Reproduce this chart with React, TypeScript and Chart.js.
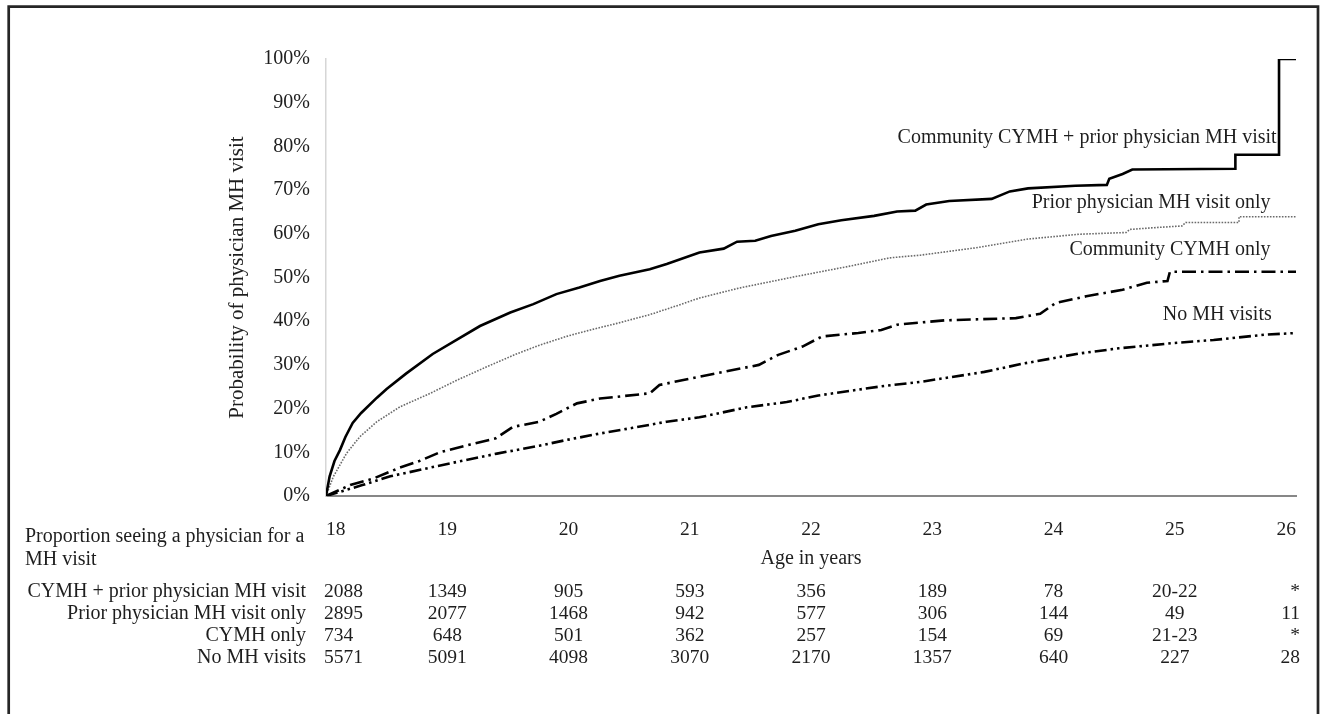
import React, { useEffect, useRef } from "react";
import { Chart, registerables } from "chart.js";

Chart.register(...registerables);

const SERIF = '"Liberation Serif", "Times New Roman", serif';

// x-axis ages (years) and y ticks (%)
const AGE_TICKS = [18, 19, 20, 21, 22, 23, 24, 25, 26];
const PCT_TICKS = [0, 10, 20, 30, 40, 50, 60, 70, 80, 90, 100];

// Community CYMH + prior physician MH visit
const BOTH_AGE = [18, 18.03, 18.07, 18.115, 18.16, 18.22, 18.29, 18.42, 18.5, 18.66, 18.88, 19.08, 19.27, 19.52, 19.71, 19.9, 20.09, 20.26, 20.42, 20.67, 20.81, 21.08, 21.28, 21.39, 21.54, 21.67, 21.87, 22.06, 22.25, 22.52, 22.71, 22.86, 22.95, 23.14, 23.49, 23.64, 23.79, 24.18, 24.44, 24.46, 24.57, 24.65, 25.5, 25.5, 25.86, 25.86, 26];
const BOTH_PCT = [0, 4.5, 8, 10.5, 13.5, 16.7, 19, 22.5, 24.5, 28, 32.5, 35.8, 38.9, 42, 43.9, 46.2, 47.7, 49.2, 50.4, 51.9, 53.1, 55.7, 56.6, 58.2, 58.4, 59.5, 60.7, 62.2, 63.1, 64.1, 65.1, 65.3, 66.7, 67.5, 68, 69.7, 70.4, 71, 71.2, 72.6, 73.7, 74.7, 74.9, 78.1, 78.1, 100, 100];

// Prior physician MH visit only
const PRIOR_AGE = [18, 18.06, 18.17, 18.28, 18.42, 18.61, 18.86, 19.08, 19.32, 19.57, 19.76, 19.98, 20.18, 20.4, 20.67, 20.89, 21.08, 21.41, 21.87, 22.32, 22.65, 22.9, 23.36, 23.79, 24.21, 24.6, 24.63, 24.83, 25.06, 25.09, 25.53, 25.53, 26];
const PRIOR_PCT = [0, 4.4, 9.8, 13.6, 17, 20.4, 23.5, 26.5, 29.5, 32.5, 34.5, 36.5, 38, 39.5, 41.5, 43.5, 45.3, 47.6, 50.2, 52.6, 54.5, 55.1, 56.8, 58.8, 59.9, 60.3, 61, 61.4, 61.8, 62.6, 62.6, 63.9, 63.9];

// Community CYMH only
const CYMH_AGE = [18, 18.2, 18.39, 18.61, 18.77, 18.94, 19.19, 19.4, 19.54, 19.76, 19.9, 20.07, 20.26, 20.67, 20.75, 21.08, 21.28, 21.57, 21.73, 21.93, 22.09, 22.39, 22.58, 22.71, 23.1, 23.69, 23.89, 24.02, 24.27, 24.57, 24.77, 24.94, 24.96, 26];
const CYMH_PCT = [0, 2.5, 4, 6.5, 8, 10, 11.8, 13.2, 15.8, 17, 18.8, 21.2, 22.3, 23.5, 25.4, 27.3, 28.4, 30, 32.3, 34.2, 36.5, 37.3, 38, 39.2, 40.2, 40.7, 41.7, 44.2, 45.7, 47.2, 48.8, 49.2, 51.3, 51.3];

// No MH visits
const NONE_AGE = [18, 18.3, 18.53, 18.86, 19.08, 19.41, 19.76, 19.98, 20.26, 20.53, 20.81, 21.08, 21.47, 21.8, 22.06, 22.58, 22.9, 23.43, 23.75, 24.21, 24.54, 24.99, 25.32, 25.74, 26];
const NONE_PCT = [0, 2.5, 4.5, 6.5, 7.8, 9.7, 11.5, 12.8, 14.3, 15.6, 17, 18, 20.3, 21.5, 23, 25.1, 26.1, 28.4, 30.3, 32.6, 33.8, 35, 35.7, 36.9, 37.3];

const SERIES_NAMES = [
  "Community CYMH + prior physician MH visit",
  "Prior physician MH visit only",
  "Community CYMH only",
  "No MH visits",
];

// Numbers at risk table
const TABLE_TITLE = ["Proportion seeing a physician for a", "MH visit"];
const ROW_LABELS = [
  "CYMH + prior physician MH visit",
  "Prior physician MH visit only",
  "CYMH only",
  "No MH visits",
];
const ROW_BOTH = ["2088", "1349", "905", "593", "356", "189", "78", "20-22", "*"];
const ROW_PRIOR = ["2895", "2077", "1468", "942", "577", "306", "144", "49", "11"];
const ROW_CYMH = ["734", "648", "501", "362", "257", "154", "69", "21-23", "*"];
const ROW_NONE = ["5571", "5091", "4098", "3070", "2170", "1357", "640", "227", "28"];

const toPoints = (xs: number[], ys: number[]) => xs.map((x, i) => ({ x, y: ys[i] }));

const overlayPlugin = {
  id: "overlay",
  afterDraw(chart: any) {
    const { ctx } = chart;
    const xs = chart.scales.x;
    const ys = chart.scales.y;
    ctx.save();
    // outer frame
    ctx.strokeStyle = "#262626";
    ctx.lineWidth = 2.7;
    ctx.beginPath();
    ctx.moveTo(8.7, 730);
    ctx.lineTo(8.7, 6.6);
    ctx.lineTo(1318, 6.6);
    ctx.lineTo(1318, 730);
    ctx.stroke();

    ctx.fillStyle = "#1e1e1e";
    ctx.textBaseline = "middle";

    // series labels
    ctx.font = `20px ${SERIF}`;
    ctx.textAlign = "right";
    const anchors = [
      [25.84, 81.9],
      [25.79, 67.0],
      [25.79, 56.3],
      [25.8, 41.4],
    ];
    SERIES_NAMES.forEach((name, i) => {
      ctx.fillText(name, xs.getPixelForValue(anchors[i][0]), ys.getPixelForValue(anchors[i][1]));
    });

    // table title
    ctx.textAlign = "left";
    ctx.fillText(TABLE_TITLE[0], 25, 537);
    ctx.fillText(TABLE_TITLE[1], 25, 560);

    // table rows
    const rows = [ROW_BOTH, ROW_PRIOR, ROW_CYMH, ROW_NONE];
    const rowY = [592, 614, 636, 658];
    rows.forEach((row, r) => {
      ctx.font = `20px ${SERIF}`;
      ctx.textAlign = "right";
      ctx.fillText(ROW_LABELS[r], 306, rowY[r]);
      ctx.font = `19.5px ${SERIF}`;
      row.forEach((val, c) => {
        const px = xs.getPixelForValue(AGE_TICKS[c]);
        if (c === 0) {
          ctx.textAlign = "left";
          ctx.fillText(val, px - 2, rowY[r]);
        } else if (c === row.length - 1) {
          ctx.textAlign = "right";
          ctx.fillText(val, px + 4, rowY[r]);
        } else {
          ctx.textAlign = "center";
          ctx.fillText(val, px, rowY[r]);
        }
      });
    });
    ctx.restore();
  },
};

export default function App() {
  const canvasRef = useRef<HTMLCanvasElement | null>(null);

  useEffect(() => {
    if (!canvasRef.current) return;
    const common = { pointRadius: 0, tension: 0, fill: false };
    const chart = new Chart(canvasRef.current, {
      type: "line",
      data: {
        datasets: [
          {
            ...common,
            label: SERIES_NAMES[0],
            data: toPoints(BOTH_AGE, BOTH_PCT),
            borderColor: "#000000",
            borderWidth: 2.6,
          },
          {
            ...common,
            label: SERIES_NAMES[1],
            data: toPoints(PRIOR_AGE, PRIOR_PCT),
            borderColor: "#6a6a6a",
            borderWidth: 1.6,
            borderDash: [1.6, 1.4],
          },
          {
            ...common,
            label: SERIES_NAMES[2],
            data: toPoints(CYMH_AGE, CYMH_PCT),
            borderColor: "#000000",
            borderWidth: 2.6,
            borderDash: [14, 5, 2.5, 5],
          },
          {
            ...common,
            label: SERIES_NAMES[3],
            data: toPoints(NONE_AGE, NONE_PCT),
            borderColor: "#000000",
            borderWidth: 2.6,
            borderDash: [12, 4, 2.5, 4, 2.5, 4],
          },
        ],
      },
      options: {
        responsive: false,
        animation: false,
        events: [],
        layout: { padding: { left: 225, right: 24, top: 59, bottom: 138 } },
        plugins: {
          legend: { display: false },
          tooltip: { enabled: false },
        },
        scales: {
          x: {
            type: "linear",
            min: 18,
            max: 26,
            afterBuildTicks: (scale: any) => {
              scale.ticks = AGE_TICKS.map((v) => ({ value: v }));
            },
            afterFit: (scale: any) => {
              scale.height = 80;
            },
            grid: { display: false, drawTicks: false },
            border: { display: true, color: "#878787", width: 2 },
            ticks: {
              align: "inner",
              padding: 22,
              color: "#1e1e1e",
              font: { family: SERIF, size: 19.5 },
              maxRotation: 0,
              autoSkip: false,
            },
            title: {
              display: true,
              text: "Age in years",
              color: "#1e1e1e",
              font: { family: SERIF, size: 20 },
              padding: { top: 0, bottom: 5.5 },
            },
          },
          y: {
            type: "linear",
            min: 0,
            max: 100,
            afterBuildTicks: (scale: any) => {
              scale.ticks = PCT_TICKS.map((v) => ({ value: v }));
            },
            afterFit: (scale: any) => {
              scale.width = 101;
            },
            grid: { display: false, drawTicks: false },
            border: { display: true, color: "#d6d6d6", width: 1.5 },
            ticks: {
              padding: 16,
              color: "#1e1e1e",
              font: { family: SERIF, size: 20 },
              callback: (v: any) => `${v}%`,
            },
            title: {
              display: true,
              text: "Probability of physician MH visit",
              color: "#1e1e1e",
              font: { family: SERIF, size: 21 },
              padding: 0,
            },
          },
        },
      },
      plugins: [overlayPlugin],
    });
    return () => chart.destroy();
  }, []);

  return (
    <div style={{ position: "absolute", left: 0, top: 0, width: 1320, height: 714, background: "#ffffff" }}>
      <canvas ref={canvasRef} width={1320} height={714} style={{ display: "block" }} />
    </div>
  );
}
